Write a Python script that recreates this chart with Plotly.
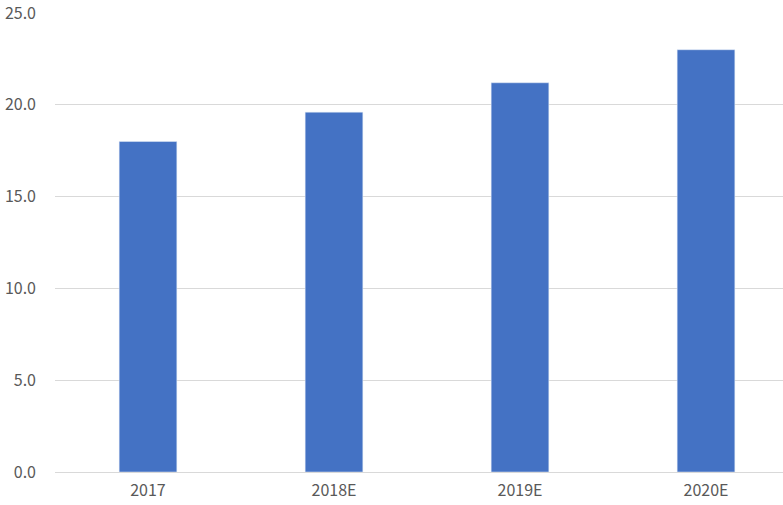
import plotly.graph_objects as go

years = ["2017", "2018E", "2019E", "2020E"]
values = [18.0, 19.6, 21.2, 23.0]

fig = go.Figure()
fig.add_trace(go.Bar(x=years, y=values, marker_color="#4472C4", width=0.31))

fig.update_layout(
    width=783, height=505,
    margin=dict(l=55, r=0, t=13, b=33),
    plot_bgcolor="white", paper_bgcolor="white",
    font=dict(family="Noto Sans CJK SC", size=16, color="#595959"),
    showlegend=False,
)
fig.update_xaxes(
    type="category", range=[-0.5, 3.414], automargin=False,
    showline=True, linecolor="#d9d9d9", linewidth=1,
    showgrid=False, ticks="", ticklabelstandoff=4,
)
fig.update_yaxes(
    range=[0, 25], dtick=5, tickformat=".1f", automargin=False,
    showgrid=True, gridcolor="#d9d9d9", gridwidth=1,
    zeroline=False, showline=False, ticklabelstandoff=18,
    ticklabeloverflow="allow",
)

# drop the default body margin so the chart sits at the window corner
fig.write_html("out.html", config={"displayModeBar": False},
               post_script="document.body.style.margin='0';")
